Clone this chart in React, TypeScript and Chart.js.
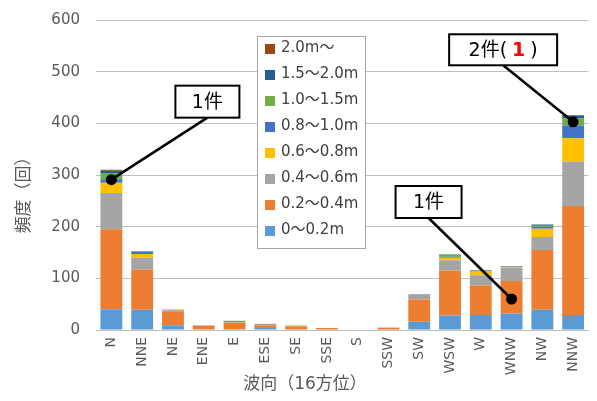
import { useEffect, useRef } from "react";
import { Chart, registerables } from "chart.js";

Chart.register(...registerables);

// Wave directions (16 points of the compass)
const directions = ["N", "NNE", "NE", "ENE", "E", "ESE", "SE", "SSE", "S", "SSW", "SW", "WSW", "W", "WNW", "NW", "NNW"];

// Wave-height classes, lowest first (stack order)
const heightClasses = ["0～0.2m", "0.2～0.4m", "0.4～0.6m", "0.6～0.8m", "0.8～1.0m", "1.0～1.5m", "1.5～2.0m", "2.0m～"];
const classColors = ["#5B9BD5", "#ED7D31", "#A5A5A5", "#FFC000", "#4472C4", "#70AD47", "#255E91", "#9E480E"];

// Occurrence counts per direction for each height class
const h00to02 = [40, 39, 9, 0, 2, 4, 0, 0, 0, 0, 16, 28, 29, 32, 39, 29];
const h02to04 = [155, 78, 26, 8, 12, 5, 7, 4, 0, 4, 43, 87, 57, 63, 116, 211];
const h04to06 = [70, 23, 3, 1, 1, 3, 1, 0, 0, 1, 9, 20, 20, 26, 25, 86];
const h06to08 = [20, 7, 2, 0, 0, 0, 1, 0, 0, 0, 0, 5, 7, 1, 16, 45];
const h08to10 = [7, 4, 0, 0, 0, 0, 0, 0, 0, 0, 1, 2, 2, 1, 4, 25];
const h10to15 = [12, 1, 0, 0, 3, 0, 0, 0, 0, 0, 0, 3, 1, 1, 2, 14];
const h15to20 = [4, 1, 0, 0, 0, 0, 0, 0, 0, 0, 0, 1, 0, 0, 2, 5];
const h20up = [2, 0, 0, 0, 0, 0, 0, 0, 0, 0, 0, 0, 0, 0, 0, 1];
const series = [h00to02, h02to04, h04to06, h06to08, h08to10, h10to15, h15to20, h20up];

// Axis ticks and titles
const yTicks = [0, 100, 200, 300, 400, 500, 600];
const xTitle = "波向（16方位）";
const yTitle = "頻度（回）";

// Callouts: direction, value at the marker, label pieces
const calloutDirs = ["N", "WNW", "NNW"];
const calloutValues = [291, 60, 403];
const calloutTexts = [
  [{ t: "1件" }],
  [{ t: "1件" }],
  [{ t: "2件(" }, { t: "1", red: true }, { t: ")" }],
];

const FONT = "'DejaVu Sans', 'Noto Sans CJK JP', sans-serif";

// Box placement for each callout, relative to its marker
const calloutBoxes = [
  { dx: 96, dy: -78, w: 64, h: 32 },
  { dx: -83, dy: -97, w: 66, h: 32 },
  { dx: -70, dy: -72, w: 108, h: 31 },
];

const overlayPlugin = {
  id: "overlay",
  afterDraw(chart: any) {
    const { ctx, chartArea, scales } = chart;
    const xs = scales.x;
    const ys = scales.y;

    // Axis titles
    ctx.save();
    ctx.fillStyle = "#595959";
    ctx.font = `17px ${FONT}`;
    ctx.textAlign = "center";
    ctx.textBaseline = "middle";
    ctx.fillText(xTitle, chartArea.left + 209, chart.height - 16);
    ctx.translate(25, chartArea.top + 171);
    ctx.rotate(-Math.PI / 2);
    ctx.fillText(yTitle, 0, 0);
    ctx.restore();

    // Legend box inside the plot, top class first
    const lx = chartArea.left + 161;
    const ly = chartArea.top + 16;
    const lw = 108;
    const lh = 212;
    ctx.save();
    ctx.fillStyle = "#ffffff";
    ctx.fillRect(lx, ly, lw, lh);
    ctx.strokeStyle = "#a6a6a6";
    ctx.lineWidth = 1;
    ctx.strokeRect(lx + 0.5, ly + 0.5, lw, lh);
    ctx.font = `15px ${FONT}`;
    ctx.textBaseline = "middle";
    ctx.textAlign = "left";
    const order = heightClasses.map((_, i) => heightClasses.length - 1 - i);
    order.forEach((ci, row) => {
      const cy = ly + 12 + row * 26;
      ctx.fillStyle = classColors[ci];
      ctx.fillRect(lx + 8, cy - 4, 10, 10);
      ctx.fillStyle = "#404040";
      ctx.fillText(heightClasses[ci], lx + 24, cy);
    });
    ctx.restore();

    // Callouts
    calloutDirs.forEach((dir, k) => {
      const px = xs.getPixelForValue(directions.indexOf(dir));
      const py = ys.getPixelForValue(calloutValues[k]);
      const b = calloutBoxes[k];
      const bx = px + b.dx;
      const by = py + b.dy;
      ctx.save();
      ctx.strokeStyle = "#000000";
      ctx.lineWidth = 2.5;
      ctx.beginPath();
      ctx.moveTo(bx, by + b.h / 2);
      ctx.lineTo(px, py);
      ctx.stroke();
      ctx.fillStyle = "#000000";
      ctx.beginPath();
      ctx.arc(px, py, 5.5, 0, Math.PI * 2);
      ctx.fill();
      ctx.fillStyle = "#ffffff";
      ctx.fillRect(bx - b.w / 2, by - b.h / 2, b.w, b.h);
      ctx.lineWidth = 2;
      ctx.strokeRect(bx - b.w / 2, by - b.h / 2, b.w, b.h);

      const parts = calloutTexts[k];
      const gap = 5;
      const fontOf = (p: any) => (p.red ? `bold 19px ${FONT}` : `19px ${FONT}`);
      let total = 0;
      parts.forEach((p: any, i: number) => {
        ctx.font = fontOf(p);
        total += ctx.measureText(p.t).width + (i > 0 ? gap : 0);
      });
      let tx = bx - total / 2;
      ctx.textBaseline = "middle";
      ctx.textAlign = "left";
      parts.forEach((p: any, i: number) => {
        if (i > 0) tx += gap;
        ctx.font = fontOf(p);
        ctx.fillStyle = p.red ? "#ff0000" : "#000000";
        ctx.fillText(p.t, tx, by + 1);
        tx += ctx.measureText(p.t).width;
      });
      ctx.restore();
    });
  },
};

export default function App() {
  const ref = useRef<HTMLCanvasElement>(null);

  useEffect(() => {
    const canvas = ref.current;
    if (!canvas) return;
    const chart = new Chart(canvas, {
      type: "bar",
      data: {
        labels: directions,
        datasets: series.map((d, i) => ({
          label: heightClasses[i],
          data: d,
          backgroundColor: classColors[i],
          barPercentage: 0.71,
          categoryPercentage: 1,
          stack: "waves",
        })),
      },
      options: {
        animation: false,
        responsive: true,
        maintainAspectRatio: false,
        layout: { padding: { top: 20, right: 2, bottom: 0, left: 0 } },
        plugins: {
          legend: { display: false },
          tooltip: { enabled: false },
        },
        scales: {
          x: {
            stacked: true,
            grid: { display: false, drawTicks: false },
            border: { display: true, color: "#bfbfbf" },
            ticks: {
              color: "#595959",
              font: { family: FONT, size: 14 },
              minRotation: 90,
              maxRotation: 90,
              padding: 7,
            },
            afterFit(scale: any) {
              scale.height = 71;
            },
          },
          y: {
            stacked: true,
            min: 0,
            max: 600,
            grid: {
              color: "#bfbfbf",
              drawTicks: true,
              tickLength: 12,
              tickColor: "rgba(0,0,0,0)",
            },
            border: { display: false },
            afterBuildTicks(scale: any) {
              scale.ticks = yTicks.map((v) => ({ value: v }));
            },
            ticks: {
              color: "#595959",
              font: { family: FONT, size: 15 },
              padding: 4,
            },
            afterFit(scale: any) {
              scale.width = 96;
            },
          },
        },
      },
      plugins: [overlayPlugin],
    });
    return () => chart.destroy();
  }, []);

  return (
    <div style={{ position: "absolute", left: 0, top: 0, width: 597, height: 401, background: "#ffffff" }}>
      <canvas ref={ref} />
    </div>
  );
}
